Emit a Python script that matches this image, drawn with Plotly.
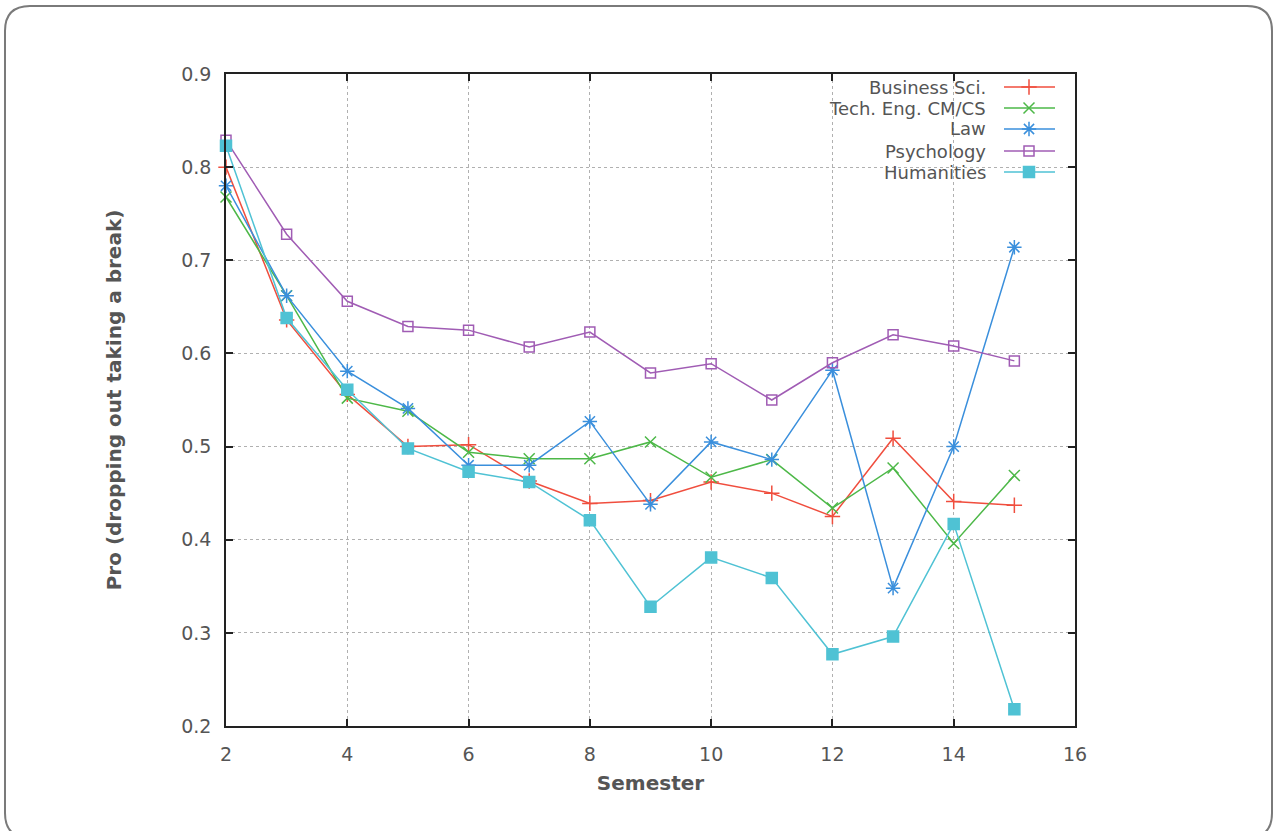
import plotly.graph_objects as go

semesters = [2, 3, 4, 5, 6, 7, 8, 9, 10, 11, 12, 13, 14, 15]
business = [0.800, 0.636, 0.556, 0.500, 0.502, 0.463, 0.439, 0.442, 0.462, 0.450, 0.425, 0.509, 0.441, 0.437]
tech_eng = [0.768, 0.662, 0.552, 0.538, 0.494, 0.487, 0.487, 0.505, 0.467, 0.486, 0.434, 0.477, 0.396, 0.469]
law = [0.780, 0.662, 0.581, 0.541, 0.480, 0.480, 0.527, 0.438, 0.505, 0.486, 0.582, 0.348, 0.500, 0.714]
psychology = [0.829, 0.728, 0.656, 0.629, 0.625, 0.607, 0.623, 0.579, 0.589, 0.550, 0.590, 0.620, 0.608, 0.592]
humanities = [0.823, 0.638, 0.561, 0.498, 0.473, 0.462, 0.421, 0.328, 0.381, 0.359, 0.277, 0.296, 0.417, 0.218]

names = ["Business Sci.", "Tech. Eng. CM/CS", "Law", "Psychology", "Humanities"]
values = [business, tech_eng, law, psychology, humanities]
colors = ["#f04e3e", "#4db848", "#3a8fdc", "#a05cb4", "#4fc2d4"]
symbols = ["cross-thin-open", "x-thin-open", "asterisk-open", "square-open", "square"]
sizes = [11, 11, 12, 10, 11]

W, H = 1274, 831
L, R, T, B = 226, 1075, 74, 726   # plot area in page pixels

def px(x):
    return (x - L) / (R - L)

def py(y):
    return (B - y) / (B - T)

fig = go.Figure()
for n, v, c, s, sz in zip(names, values, colors, symbols, sizes):
    fig.add_trace(go.Scatter(
        x=semesters, y=v, mode="lines+markers", name=n,
        line=dict(color=c, width=1.5),
        marker=dict(symbol=s, size=sz, color=c, line=dict(color=c, width=1.5)),
        showlegend=False, cliponaxis=False))

# custom legend (symbols to the right of text)
row_y = [87, 108, 129, 151, 172]
for n, c, s, sz, ry in zip(names, colors, symbols, sizes, row_y):
    fig.add_trace(go.Scatter(
        x=[px(1004), px(1055)], y=[py(ry), py(ry)], mode="lines",
        line=dict(color=c, width=1.5), xaxis="x2", yaxis="y2",
        showlegend=False, hoverinfo="skip"))
    fig.add_trace(go.Scatter(
        x=[px(1029)], y=[py(ry)], mode="markers",
        marker=dict(symbol=s, size=sz, color=c, line=dict(color=c, width=1.5)),
        xaxis="x2", yaxis="y2", showlegend=False, hoverinfo="skip"))
    fig.add_annotation(x=px(988), y=py(ry), xref="paper", yref="paper",
                       text=n, showarrow=False, xanchor="right", yanchor="middle",
                       font=dict(size=18, color="#555555"))

# white legend background covering gridlines
fig.add_shape(type="rect", xref="paper", yref="paper",
              x0=px(800), x1=px(1062), y0=py(182), y1=py(76),
              fillcolor="white", line=dict(width=0), layer="between")

# rounded outer frame
x0, y0, x1, y1, r = 5, 6, 1272, 838, 25
def P(x, y):
    return f"{px(x):.5f},{py(y):.5f}"
path = (f"M {P(x0 + r, y0)} L {P(x1 - r, y0)} Q {P(x1, y0)} {P(x1, y0 + r)} "
        f"L {P(x1, y1 - r)} Q {P(x1, y1)} {P(x1 - r, y1)} "
        f"L {P(x0 + r, y1)} Q {P(x0, y1)} {P(x0, y1 - r)} "
        f"L {P(x0, y0 + r)} Q {P(x0, y0)} {P(x0 + r, y0)} Z")
fig.add_shape(type="path", xref="paper", yref="paper", path=path,
              line=dict(color="#7a7a7a", width=2), layer="above")

axis_common = dict(
    showline=True, linecolor="#222222", linewidth=1.5, mirror="ticks",
    ticks="inside", ticklen=7, tickcolor="#222222", tickwidth=1.5,
    showgrid=True, gridcolor="#b0b0b0", griddash="dot", gridwidth=1.2,
    zeroline=False, tickfont=dict(size=19, color="#555555"),
)

fig.update_layout(
    width=W, height=H,
    margin=dict(l=L, r=W - R, t=T, b=H - B),
    paper_bgcolor="white", plot_bgcolor="white",
    font=dict(family="DejaVu Sans, sans-serif", color="#555555"),
    xaxis=dict(range=[2, 16], dtick=2, tick0=2, ticklabelstandoff=10,
               title=dict(text="<b>Semester</b>", font=dict(size=20, color="#555555"), standoff=12),
               **axis_common),
    yaxis=dict(range=[0.2, 0.9], dtick=0.1, tickformat=".1f", ticklabelstandoff=9,
               title=dict(text="<b>Pro (dropping out taking a break)</b>", font=dict(size=20, color="#555555"), standoff=54),
               **axis_common),
    xaxis2=dict(overlaying="x", range=[0, 1], visible=False),
    yaxis2=dict(overlaying="y", range=[0, 1], visible=False),
)

fig.write_html("out.html", config={"displayModeBar": False},
               post_script="document.body.style.margin='0';document.body.style.overflow='hidden';")
